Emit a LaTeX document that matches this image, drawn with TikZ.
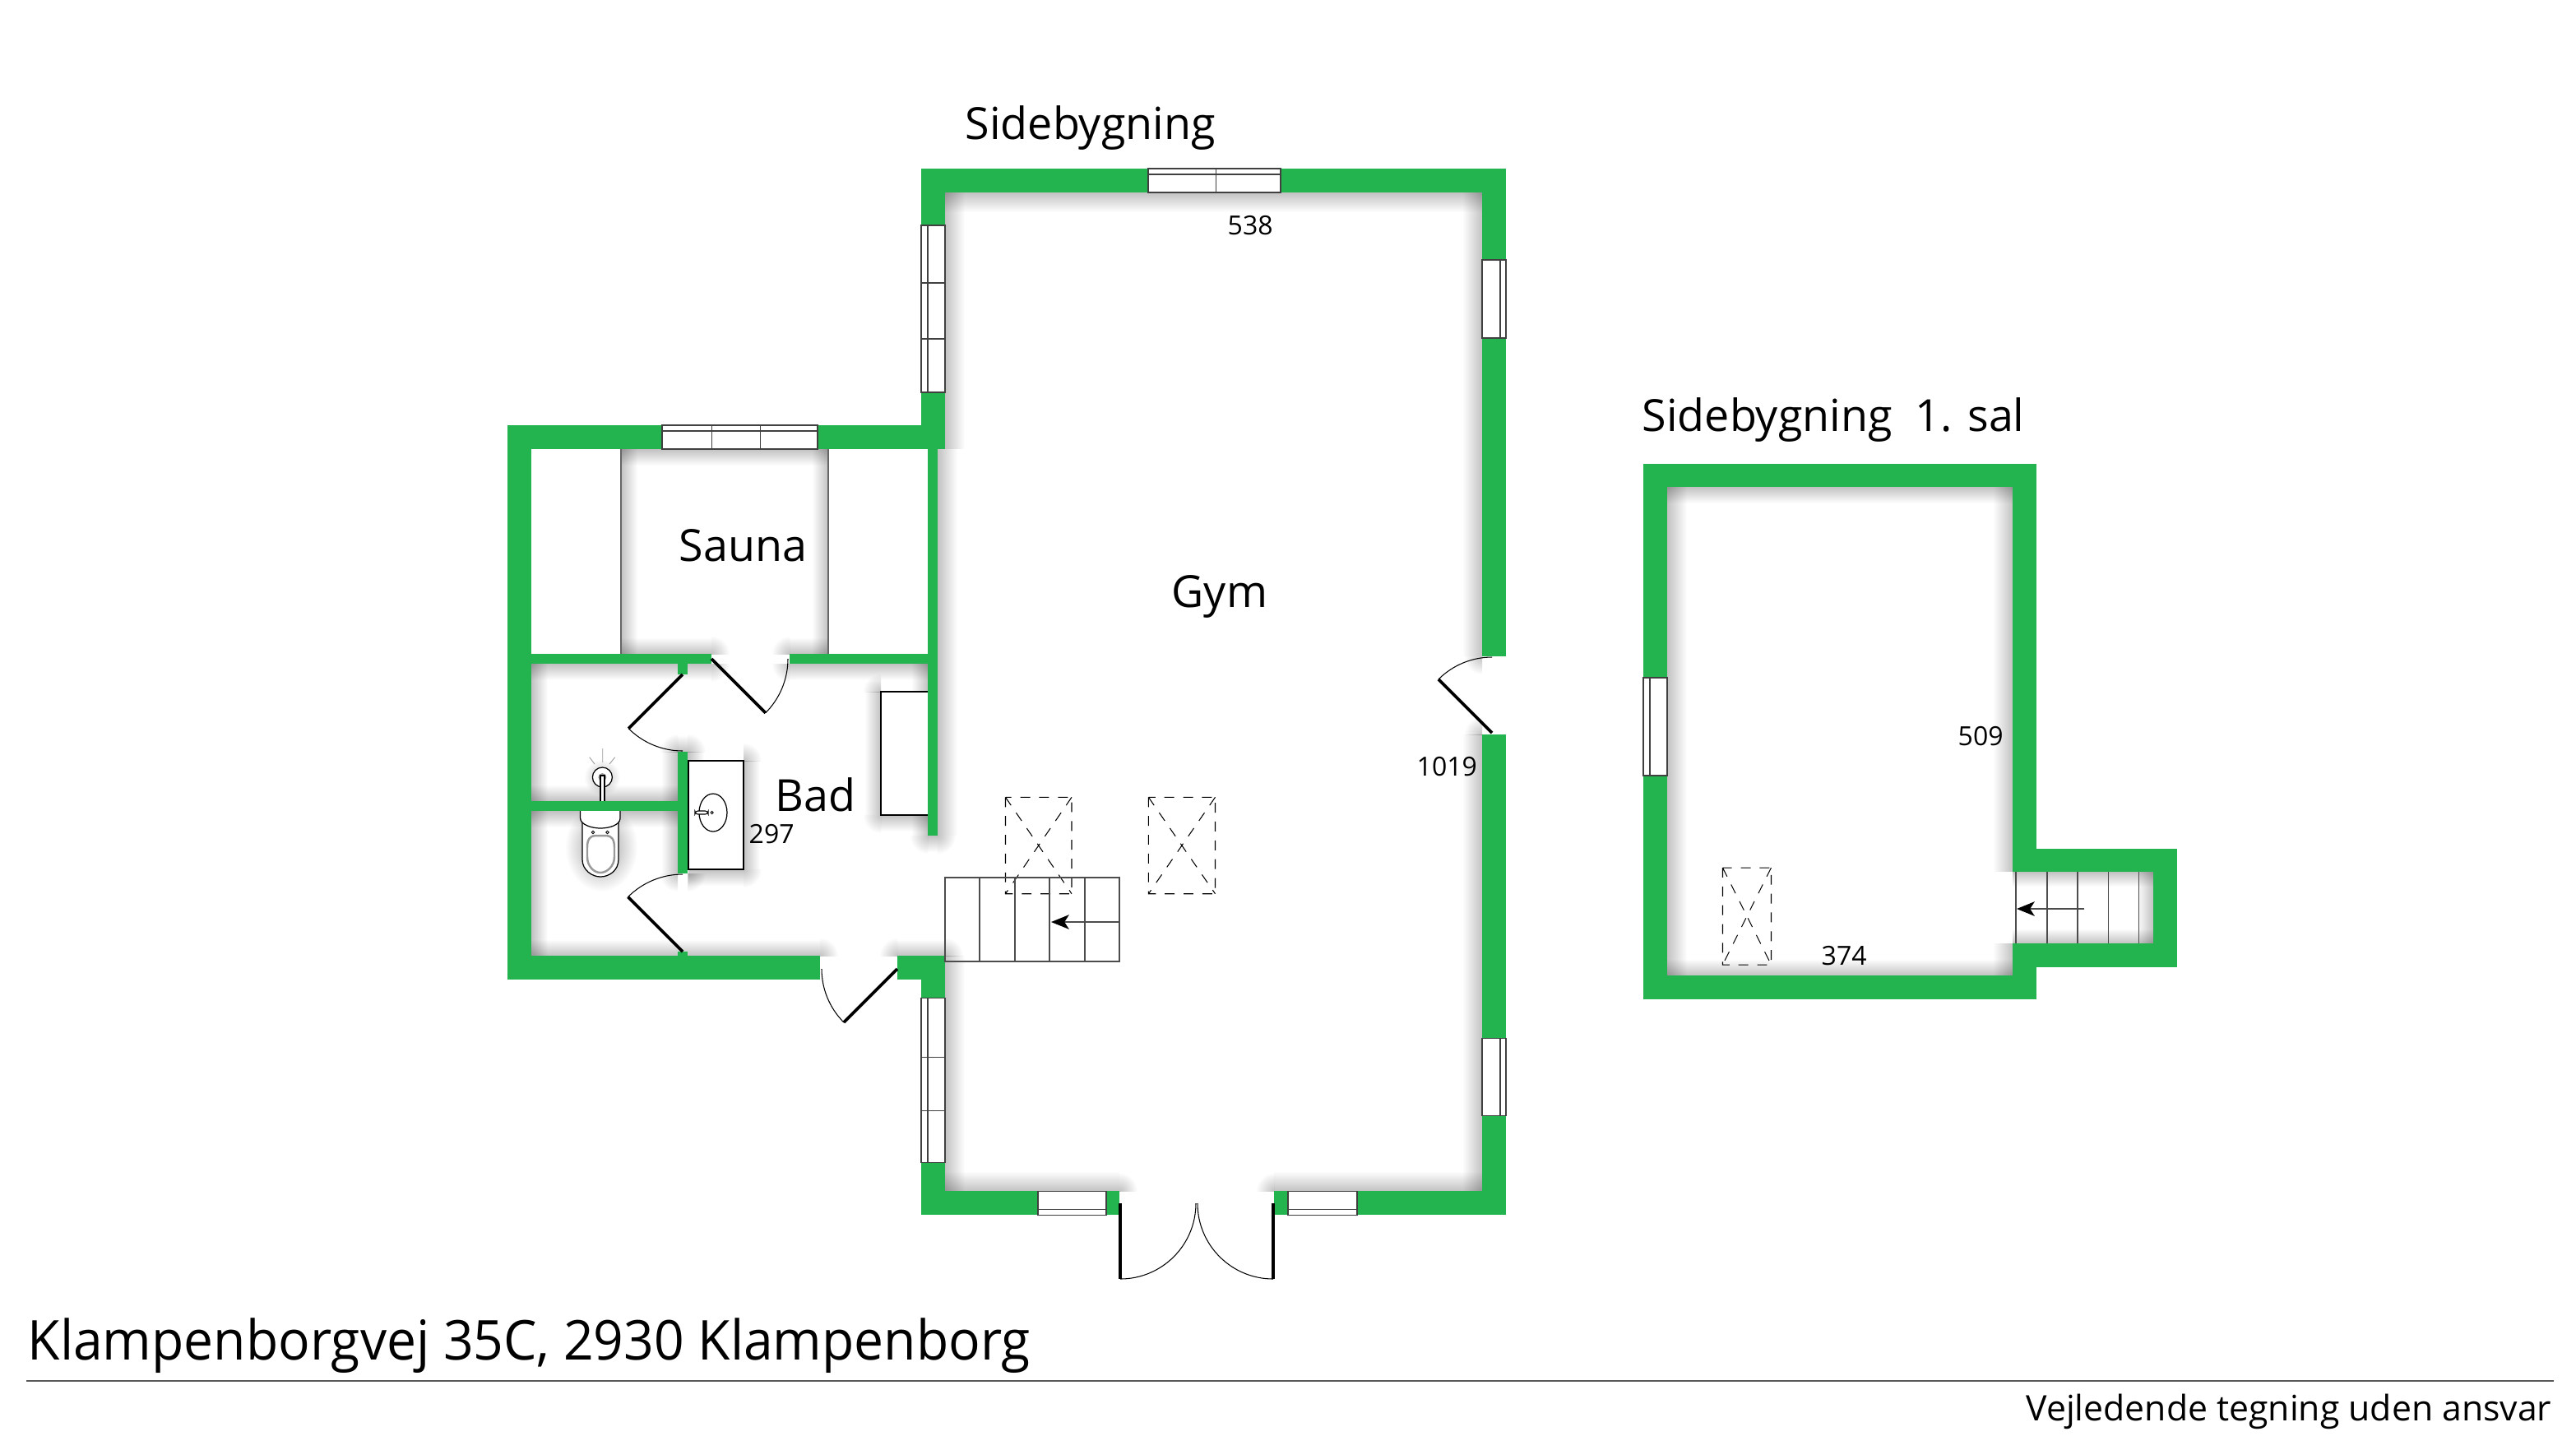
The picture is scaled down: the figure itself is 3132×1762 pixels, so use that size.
\documentclass[tikz,border=0pt]{standalone}
\usepackage{fontspec}
\setmainfont{Open Sans}
\newfontfamily\titlefont[FakeStretch=0.96]{Open Sans}
\usetikzlibrary{arrows.meta, fadings}
\definecolor{wallgreen}{RGB}{35,179,79}
\tikzfading[name=softround, inner color=transparent!0, outer color=transparent!100]

\begin{document}
\begin{tikzpicture}[x=0.01cm, y=-0.01cm,
	wall/.style={fill=wallgreen, draw=none},
	winline/.style={draw=black!75, line width=0.3pt},
	stairline/.style={draw=black!70, line width=0.45pt},
	stairarrow/.style={stairline, -{Stealth[length=6.2pt, width=5pt, inset=1.6pt, color=black]}},
	leaf/.style={line width=1.05pt},
	swing/.style={line width=0.3pt},
	skylight/.style={line width=0.3pt, dash pattern=on 3.4pt off 3.1pt},
	softshade/.style={fill=black, fill opacity=0.24, draw=none},
	fromE/.style={softshade, path fading=west},
	fromW/.style={softshade, path fading=east},
	fromN/.style={softshade, path fading=south},
	fromS/.style={softshade, path fading=north},
	roomlabel/.style={anchor=base west, inner sep=0pt, font=\fontsize{15.3pt}{18pt}\selectfont},
	dimlabel/.style={anchor=base west, inner sep=0pt, font=\fontsize{9.1pt}{11pt}\selectfont}]

	% fix the size of the page
	\useasboundingbox (0,0) rectangle (3132,1762);

	% soft shadows along the walls
	\foreach \a/\b/\c/\d in {1778/234/1802/798, 1778/893/1802/1448, 2423/592/2447/1060, 2423/1147/2447/1186,
		987/546/1007/795, 804/914/824/974, 804/986/824/1062, 1108/807/1128/1016, 2598/1060/2618/1147, 1051/841/1071/991}
		\fill[fromE] (\a,\b) rectangle (\c,\d);
	\foreach \a/\b/\c/\d in {1149/234/1173/546, 1140/546/1164/1016, 1149/1162/1173/1448, 2027/592/2051/1186,
		755/546/775/795, 646/807/666/974, 646/986/666/1162, 836/914/856/925, 904/925/924/1057}
		\fill[fromW] (\a,\b) rectangle (\c,\d);
	\foreach \a/\b/\c/\d in {1149/234/1802/258, 755/546/1007/566, 646/807/865/827, 960/807/1128/827,
		646/986/824/1006, 2027/592/2447/612, 2447/1060/2618/1078, 1128/1016/1140/1036, 837/1057/904/1077, 1071/991/1128/1011}
		\fill[fromN] (\a,\b) rectangle (\c,\d);
	\foreach \a/\b/\c/\d in {1149/1424/1361/1448, 1549/1424/1802/1448, 755/775/865/795, 960/775/1007/795,
		646/954/824/974, 646/1142/997/1162, 1091/1142/1149/1162, 2027/1166/2447/1186, 2447/1129/2618/1147, 824/894/836/914}
		\fill[fromS] (\a,\b) rectangle (\c,\d);

	% round off the shadow where a wall or fitting ends
	\foreach \x/\y/\sx/\sy in {997/1162/1/-1, 1091/1162/-1/-1, 1149/1162/1/-1, 1361/1448/1/-1, 1549/1448/-1/-1,
		1802/798/-1/1, 1802/893/-1/-1, 865/807/1/1, 960/807/-1/1, 865/795/1/-1, 960/795/-1/-1,
		1128/1016/-1/1, 1140/1016/1/1, 824/914/-1/-1, 836/914/1/-1, 824/1062/-1/1, 836/1062/1/1,
		904/1057/1/1, 904/925/1/-1, 1071/991/-1/1, 1071/841/-1/-1}
	{
		\begin{scope}
			\clip (\x,\y) rectangle ++(22*\sx,22*\sy);
			\fill[softshade, path fading=softround] (\x,\y) circle (22);
		\end{scope}
	}

	% shadows below the toilet and the flush button
	\fill[black, fill opacity=0.4, path fading=softround] (731,1030) ellipse (44 and 54);
	\fill[black, fill opacity=0.25, path fading=softround] (732,945) circle (22);

	% draw the walls of both buildings
	\foreach \a/\b/\c/\d in {1120/205/1396/234, 1557/205/1831/234, 1120/205/1149/274, 1120/477/1149/546,
		617/517/805/546, 994/517/1149/546, 1128/546/1140/1016, 617/517/646/1191,
		646/795/865/807, 960/795/1128/807, 824/807/836/820, 646/974/824/986, 824/914/836/1062, 824/1157/836/1162,
		617/1162/997/1191, 1091/1162/1149/1191, 1120/1191/1149/1213, 1120/1413/1149/1477,
		1120/1448/1262/1477, 1345/1448/1361/1477, 1549/1448/1566/1477, 1650/1448/1831/1477,
		1802/205/1831/316, 1802/411/1831/798, 1802/893/1831/1262, 1802/1356/1831/1477,
		1998/564/2476/592, 1998/564/2027/824, 1998/943/2027/1215, 1998/1186/2476/1215, 2447/564/2476/1060,
		2447/1032/2647/1060, 2447/1147/2647/1176, 2447/1147/2476/1215, 2618/1032/2647/1176}
		\fill[wall] (\a,\b) rectangle (\c,\d);

	% sauna side walls and the fittings
	\draw[draw=black!60, line width=0.45pt] (755,546) -- (755,795) (1007,546) -- (1007,795);
	\draw[fill=white, line width=0.4pt] (837,925) rectangle (904,1057);
	\draw[line width=0.35pt] (867,988) ellipse (17 and 23);
	\draw[fill=white, line width=0.3pt, rounded corners=1pt] (845,986) rectangle (861,990);
	\draw[line width=0.25pt] (865.6,988) circle (1.7);
	\draw[fill=white, line width=0.4pt] (1128,841) -- (1071,841) -- (1071,991) -- (1128,991);

	% toilet, flush button and its rays
	\draw[fill=white, line width=0.35pt] (708,1000) -- (708,1045) .. controls (708,1058) and (720,1066) .. (730,1066)
		.. controls (741,1066) and (752,1058) .. (752,1045) -- (752,1000);
	\draw[fill=white, line width=0.35pt] (705.6,986) -- (705.6,995) .. controls (706,1003) and (720,1007) .. (730,1007)
		.. controls (741,1007) and (754,1003) .. (754,995) -- (754,986);
	\draw[line width=0.25pt] (721,1012) circle (1.7) (738.5,1012) circle (1.7);
	\draw[draw=black!40, line width=0.7pt] (714,1030) .. controls (714,1020) and (718,1016) .. (724,1016) -- (737,1016)
		.. controls (743,1016) and (747,1020) .. (747,1030) -- (747,1042) .. controls (747,1053) and (738,1061) .. (730,1061)
		.. controls (722,1061) and (714,1053) .. (714,1042) -- cycle;
	\draw[fill=white, line width=0.35pt] (732.4,945) circle (12);
	\fill[black!40] (732.4,945) circle (5);
	\draw[fill=white, line width=0.3pt] (730,974) -- (730,943) -- (735,943) -- (735,974);
	\draw[draw=black!40, line width=0.25pt] (732.8,910) -- (732.8,927) (716.7,920.7) -- (723,929) (747.7,920.7) -- (741,929);

	% windows
	\foreach \a/\b/\c/\d in {805/517/994/546, 1396/205/1557/234, 1262/1448/1345/1477, 1566/1448/1650/1477,
		1120/274/1149/477, 1120/1213/1149/1413, 1802/316/1831/411, 1802/1262/1831/1356, 1998/824/2027/943}
		\draw[winline, fill=white] (\a,\b) rectangle (\c,\d);
	\draw[winline] (805,524) -- (994,524) (865.6,517) -- (865.6,546) (924.5,517) -- (924.5,546);
	\draw[winline] (1396,212) -- (1557,212) (1478.6,205) -- (1478.6,234);
	\draw[winline] (1262,1470) -- (1345,1470) (1566,1470) -- (1650,1470);
	\draw[winline] (1128,274) -- (1128,477) (1120,344) -- (1149,344) (1120,412) -- (1149,412);
	\draw[winline] (1128,1213) -- (1128,1413) (1120,1285) -- (1149,1285) (1120,1350) -- (1149,1350);
	\draw[winline] (1824,316) -- (1824,411) (1824,1262) -- (1824,1356) (2006,824) -- (2006,943);

	% doors: a leaf from its hinge and then the swing
	\foreach \hx/\hy/\leafangle/\endangle/\rad in {1362/1463/90/0/92, 1548/1463/90/180/92, 1814/891/225/270/92,
		865/801/45/0/93, 830/820/135/90/93, 830/1157/225/270/94, 1091/1178/135/180/92}
	{
		\draw[leaf] (\hx,\hy) -- ++(\leafangle:\rad) coordinate (tip);
		\draw[swing] (tip) arc (\leafangle:\endangle:\rad);
	}

	% skylights drawn dashed
	\foreach \a/\b/\c/\d in {1222.5/969.3/1303/1086.7, 1396.4/969.3/1477.5/1086.7, 2094.5/1055/2153.5/1173}
		\draw[skylight] (\a,\b) rectangle (\c,\d) (\a,\b) -- (\c,\d) (\c,\b) -- (\a,\d);

	% stairs
	\draw[stairline] (1148.7,1066.7) rectangle (1360.7,1169);
	\foreach \x in {1191,1233.7,1276,1318.7}
		\draw[stairline] (\x,1066.7) -- (\x,1169);
	\draw[stairarrow] (1360.7,1121) -- (1278,1121);
	\foreach \x in {2451,2489,2526,2563.5,2600.5}
		\draw[stairline] (\x,1060) -- (\x,1147);
	\draw[stairarrow] (2534,1105) -- (2452,1105);

	% labels
	\node[roomlabel] (sidebygning) at (1173,169) {Sidebygning};
	\node[roomlabel] (firstfloor) at (1996,524) {Sidebygning\ \ 1. sal};
	\node[roomlabel] (gym) at (1424,738) {Gym};
	\node[roomlabel] (sauna) at (825,682) {Sauna};
	\node[roomlabel] (bad) at (942,986) {Bad};
	\node[dimlabel] (dimbad) at (910,1025) {297};
	\node[dimlabel] (dimtop) at (1492,285) {538};
	\node[dimlabel] (dimright) at (1722,943) {1019};
	\node[dimlabel] (dimupper) at (2380,906) {509};
	\node[dimlabel] (dimlower) at (2214,1173) {374};

	% address and rule at the bottom
	\node[anchor=base west, inner sep=0pt, font=\titlefont\fontsize{19pt}{23pt}\selectfont] (address) at (33,1653) {Klampenborgvej 35C, 2930 Klampenborg};
	\draw[draw=black!65, line width=0.4pt] (32,1679) -- (3105,1679);
	\node[anchor=base east, inner sep=0pt, font=\fontsize{12.15pt}{14pt}\selectfont] (disclaimer) at (3103,1727) {Vejledende tegning uden ansvar};
\end{tikzpicture}
\end{document}
